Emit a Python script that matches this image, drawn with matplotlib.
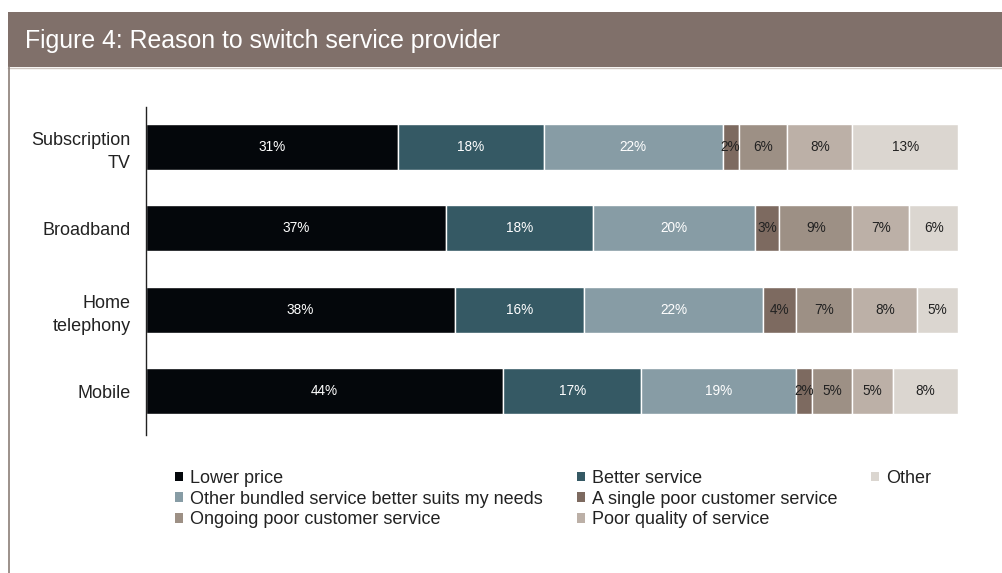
import matplotlib.pyplot as plt
from matplotlib.patches import Patch, Rectangle
from matplotlib.lines import Line2D

plt.rcParams['font.family'] = ['Liberation Sans', 'DejaVu Sans']

services = ['Subscription\nTV', 'Broadband', 'Home\ntelephony', 'Mobile']
reasons = ['Lower price', 'Better service', 'Other bundled service better suits my needs',
           'A single poor customer service', 'Ongoing poor customer service',
           'Poor quality of service', 'Other']
lower_price = [31, 37, 38, 44]
better_service = [18, 18, 16, 17]
bundled = [22, 20, 22, 19]
single_poor = [2, 3, 4, 2]
ongoing_poor = [6, 9, 7, 5]
poor_quality = [8, 7, 8, 5]
other = [13, 6, 5, 8]

series = [lower_price, better_service, bundled, single_poor, ongoing_poor, poor_quality, other]
colours = ['#04070b', '#355964', '#879ca5', '#7d6a60', '#9d9085', '#bcb0a7', '#dbd6d0']
text_col = ['white', 'white', 'white', '#222222', '#222222', '#222222', '#222222']

fig = plt.figure(figsize=(10.02, 5.73), dpi=100)

# header band with title
fig.patches.append(Rectangle((8 / 1002, 1 - 67 / 573), 1, 55 / 573, transform=fig.transFigure,
                             facecolor='#80706a', edgecolor='none', zorder=0))
fig.lines.append(Line2D([8 / 1002, 1], [1 - 67.5 / 573] * 2, transform=fig.transFigure,
                        color='#cfc7c1', lw=1))
fig.lines.append(Line2D([8.5 / 1002] * 2, [0, 1 - 67 / 573], transform=fig.transFigure,
                        color='#8b7e77', lw=1.2))
fig.text(25 / 1002, 1 - 41 / 573, 'Figure 4: Reason to switch service provider',
         color='white', fontsize=17.9, va='center', ha='left')

ax = fig.add_axes([146 / 1002, 1 - 435 / 573, (958 - 146) / 1002, (435 - 107) / 573])

pos = list(range(len(services)))
left = [0] * len(services)
for vals, name, c, tc in zip(series, reasons, colours, text_col):
    bars = ax.barh(pos, vals, left=left, height=0.565, color=c, edgecolor='white',
                   linewidth=1, label=name)
    for b, v in zip(bars, vals):
        ax.text(b.get_x() + b.get_width() / 2, b.get_y() + b.get_height() / 2, f'{v}%',
                ha='center', va='center', fontsize=9.8, color=tc)
    left = [l + v for l, v in zip(left, vals)]

ax.set_xlim(0, 100)
ax.set_ylim(3.54, -0.49)
ax.set_yticks(pos)
ax.set_yticklabels(services, fontsize=13, color='#222222', linespacing=1.45)
ax.tick_params(axis='y', length=0, pad=11)
ax.set_xticks([])
for s in ['top', 'right', 'bottom']:
    ax.spines[s].set_visible(False)
ax.spines['left'].set_color('#222222')
ax.spines['left'].set_linewidth(1)

# legend in three columns, a blank entry keeps "Other" alone in the last one
order = [0, 2, 4, 1, 3, 5, 6]
handles = [Patch(facecolor=colours[i], edgecolor='none') for i in order]
labels = [reasons[i] for i in order]
handles.append(Patch(facecolor='none', edgecolor='none'))
labels.append('')
fig.legend(handles, labels, loc='upper left', bbox_to_anchor=(166 / 1002, 1 - 461 / 573),
           ncol=3, frameon=False, fontsize=13, borderpad=0, handlelength=0.45,
           handleheight=0.45, handletextpad=0.4, columnspacing=1.85, labelspacing=0.2,
           labelcolor='#222222')

fig.savefig('out.png', dpi=100)
